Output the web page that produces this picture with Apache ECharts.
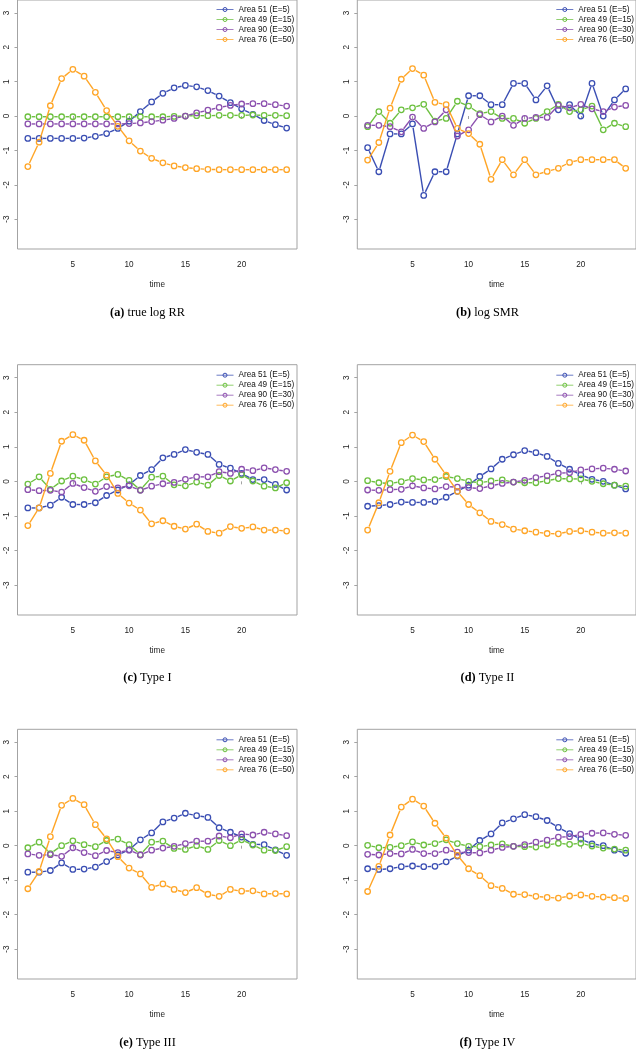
<!DOCTYPE html>
<html><head><meta charset="utf-8">
<script src="https://cdn.jsdelivr.net/npm/echarts@6/dist/echarts.min.js"></script>
<style>html,body{margin:0;padding:0;background:#fff}#c{width:636px;height:1050px}</style>
</head><body><div id="c"></div>
<script>
// ---------- DATA ----------
const time = [1,2,3,4,5,6,7,8,9,10,11,12,13,14,15,16,17,18,19,20,21,22,23,24];
const areaNames = ['Area 51 (E=5)','Area 49 (E=15)','Area 90 (E=30)','Area 76 (E=50)'];
const xTicks = [5,10,15,20];
const yTicks = [-3,-2,-1,0,1,2,3];
const captions = [['(a)','true log RR'],['(b)','log SMR'],['(c)','Type I'],['(d)','Type II'],['(e)','Type III'],['(f)','Type IV']];

// (a) true log RR
const trueRR_a51 = [-0.65,-0.65,-0.65,-0.65,-0.65,-0.64,-0.59,-0.51,-0.36,-0.15,0.13,0.41,0.66,0.82,0.89,0.85,0.74,0.58,0.39,0.21,0.05,-0.13,-0.25,-0.35];
const trueRR_a49 = [-0.02,-0.02,-0.02,-0.02,-0.02,-0.02,-0.02,-0.02,-0.02,-0.02,-0.02,-0.02,-0.02,-0.01,0,0.01,0.01,0.02,0.02,0.02,0.03,0.02,0.02,0.01];
const trueRR_a90 = [-0.23,-0.23,-0.23,-0.23,-0.23,-0.23,-0.23,-0.23,-0.23,-0.22,-0.2,-0.16,-0.12,-0.07,0,0.09,0.17,0.25,0.31,0.35,0.36,0.36,0.33,0.29];
const trueRR_a76 = [-1.47,-0.76,0.3,1.09,1.36,1.16,0.69,0.16,-0.3,-0.72,-1.02,-1.23,-1.36,-1.45,-1.5,-1.53,-1.55,-1.56,-1.56,-1.56,-1.56,-1.56,-1.56,-1.56];
// (b) log SMR
const smr_a51 = [-0.92,-1.62,-0.52,-0.52,-0.23,-2.31,-1.62,-1.62,-0.52,0.59,0.59,0.33,0.33,0.95,0.95,0.47,0.88,0.18,0.33,0,0.95,0,0.47,0.79];
const smr_a49 = [-0.31,0.13,-0.21,0.18,0.24,0.34,-0.15,-0.07,0.43,0.29,0.07,0.13,-0.07,-0.07,-0.21,-0.07,0.13,0.34,0.13,0.18,0.29,-0.4,-0.21,-0.31];
const smr_a90 = [-0.27,-0.27,-0.31,-0.46,-0.03,-0.36,-0.17,0.18,-0.58,-0.4,0.04,-0.17,0,-0.27,-0.07,-0.04,-0.04,0.31,0.24,0.34,0.21,0.13,0.26,0.31];
const smr_a76 = [-1.28,-0.77,0.23,1.07,1.38,1.19,0.4,0.33,-0.36,-0.51,-0.82,-1.84,-1.27,-1.71,-1.27,-1.71,-1.61,-1.52,-1.35,-1.27,-1.27,-1.27,-1.27,-1.52];
// (c) Type I
const t1_a51 = [-0.77,-0.77,-0.69,-0.46,-0.67,-0.67,-0.62,-0.41,-0.25,-0.1,0.17,0.34,0.68,0.78,0.92,0.84,0.78,0.49,0.38,0.23,0.05,0.05,-0.09,-0.25];
const t1_a49 = [-0.08,0.13,-0.23,0.01,0.15,0.05,-0.08,0.13,0.2,0.03,-0.25,0.12,0.15,-0.1,-0.13,-0.02,-0.11,0.17,0.01,0.19,0.01,-0.14,-0.19,-0.04];
const t1_a90 = [-0.24,-0.27,-0.26,-0.31,-0.06,-0.18,-0.29,-0.15,-0.19,-0.13,-0.26,-0.14,-0.07,-0.03,0.06,0.13,0.13,0.28,0.23,0.35,0.31,0.39,0.34,0.29];
const t1_a76 = [-1.28,-0.77,0.23,1.16,1.35,1.19,0.59,0.18,-0.35,-0.63,-0.83,-1.23,-1.14,-1.3,-1.38,-1.24,-1.45,-1.5,-1.31,-1.36,-1.32,-1.41,-1.41,-1.44];
// (d) Type II
const t2_a51 = [-0.72,-0.7,-0.67,-0.6,-0.61,-0.61,-0.58,-0.46,-0.29,-0.11,0.14,0.36,0.64,0.77,0.89,0.83,0.72,0.52,0.35,0.19,0.06,0,-0.11,-0.22];
const t2_a49 = [0.02,-0.04,-0.06,-0.01,0.08,0.04,0.05,0.14,0.08,0,-0.04,0.01,0.04,-0.02,-0.04,-0.04,0.02,0.08,0.07,0.07,0,-0.07,-0.11,-0.14];
const t2_a90 = [-0.25,-0.26,-0.24,-0.23,-0.13,-0.19,-0.22,-0.15,-0.17,-0.18,-0.21,-0.13,-0.06,-0.02,0.03,0.11,0.16,0.24,0.25,0.33,0.36,0.38,0.35,0.3];
const t2_a76 = [-1.41,-0.62,0.29,1.12,1.34,1.15,0.64,0.18,-0.29,-0.67,-0.91,-1.16,-1.25,-1.38,-1.43,-1.47,-1.51,-1.52,-1.45,-1.43,-1.47,-1.5,-1.49,-1.5];
// (e) Type III
const t3_a51 = [-0.77,-0.77,-0.72,-0.5,-0.69,-0.68,-0.62,-0.46,-0.27,-0.12,0.17,0.37,0.69,0.8,0.94,0.87,0.82,0.52,0.39,0.25,0.04,0.03,-0.12,-0.28];
const t3_a49 = [-0.06,0.1,-0.23,0,0.14,0.03,-0.03,0.15,0.19,0.03,-0.26,0.1,0.13,-0.08,-0.11,0,-0.11,0.15,0,0.17,0.02,-0.13,-0.14,-0.03];
const t3_a90 = [-0.24,-0.28,-0.26,-0.31,-0.06,-0.2,-0.29,-0.14,-0.2,-0.13,-0.27,-0.13,-0.07,-0.02,0.06,0.13,0.13,0.28,0.23,0.34,0.31,0.39,0.34,0.29];
const t3_a76 = [-1.25,-0.75,0.26,1.17,1.37,1.19,0.61,0.2,-0.32,-0.65,-0.82,-1.21,-1.11,-1.27,-1.36,-1.22,-1.41,-1.47,-1.27,-1.32,-1.31,-1.4,-1.39,-1.4];
// (f) Type IV
const t4_a51 = [-0.67,-0.69,-0.67,-0.61,-0.59,-0.61,-0.6,-0.47,-0.3,-0.13,0.15,0.34,0.66,0.78,0.9,0.84,0.73,0.53,0.35,0.19,0.05,0,-0.13,-0.22];
const t4_a49 = [0.01,-0.06,-0.05,0,0.11,0.02,0.06,0.17,0.06,-0.02,-0.03,0.02,0.05,-0.02,-0.03,-0.04,0.02,0.07,0.04,0.07,-0.01,-0.07,-0.1,-0.13];
const t4_a90 = [-0.25,-0.27,-0.23,-0.24,-0.11,-0.23,-0.23,-0.13,-0.19,-0.2,-0.21,-0.13,-0.05,-0.02,0.03,0.1,0.16,0.25,0.26,0.33,0.36,0.37,0.33,0.3];
const t4_a76 = [-1.33,-0.6,0.31,1.12,1.35,1.15,0.65,0.22,-0.28,-0.67,-0.87,-1.16,-1.24,-1.41,-1.42,-1.47,-1.5,-1.52,-1.46,-1.43,-1.47,-1.49,-1.51,-1.53];

const panelData = [
  [trueRR_a51, trueRR_a49, trueRR_a90, trueRR_a76],
  [smr_a51, smr_a49, smr_a90, smr_a76],
  [t1_a51, t1_a49, t1_a90, t1_a76],
  [t2_a51, t2_a49, t2_a90, t2_a76],
  [t3_a51, t3_a49, t3_a90, t3_a76],
  [t4_a51, t4_a49, t4_a90, t4_a76]
];

// ---------- STYLE / LAYOUT ----------
const colors = ['#3a4eb3', '#6cc03f', '#8b4fae', '#ffa526'];
const colLeft = [17.5, 357.3], colWidth = [279.5, 279];
const rowTop = [-1, 364.7, 729.3], rowHeight = [250, 250.3, 249.7];
const capX = [147.5, 487.5], capY = [307, 672, 1037];
const GAP = 3.9;
const SANS = 'Liberation Sans, Arial, sans-serif';
const SERIF = 'Liberation Serif, Times New Roman, serif';

function segRender(color) {
  return function (params, api) {
    const a = api.coord([api.value(0), api.value(1)]);
    const b = api.coord([api.value(2), api.value(3)]);
    const dx = b[0] - a[0], dy = b[1] - a[1];
    const L = Math.sqrt(dx * dx + dy * dy);
    if (L <= 2 * GAP) return { type: 'group', children: [] };
    const ux = dx / L, uy = dy / L;
    return {
      type: 'line', silent: true,
      shape: { x1: a[0] + ux * GAP, y1: a[1] + uy * GAP, x2: b[0] - ux * GAP, y2: b[1] - uy * GAP },
      style: { stroke: color, lineWidth: 1.4 }
    };
  };
}

const grid = [], xAxis = [], yAxis = [], legend = [], title = [], series = [];
panelData.forEach((areas, p) => {
  const c = p % 2, r = Math.floor(p / 2);
  grid.push({ left: colLeft[c], top: rowTop[r], width: colWidth[c], height: rowHeight[r],
    show: true, borderColor: '#a3a3a3', borderWidth: 1, backgroundColor: 'transparent' });
  xAxis.push({ gridIndex: p, type: 'value', min: 0.08, max: 24.92,
    name: 'time', nameLocation: 'middle', nameGap: 32,
    nameTextStyle: { fontSize: 8.2, color: '#222', fontFamily: SANS },
    axisLine: { show: false }, splitLine: { show: false },
    axisTick: { show: true, length: 3, lineStyle: { color: '#a3a3a3' }, customValues: xTicks },
    axisLabel: { customValues: xTicks, margin: 12, fontSize: 8.2, color: '#222', fontFamily: SANS } });
  yAxis.push({ gridIndex: p, type: 'value', min: -3.868, max: 3.376,
    axisLine: { show: false }, splitLine: { show: false },
    axisTick: { show: true, length: 3, lineStyle: { color: '#a3a3a3' }, customValues: yTicks },
    axisLabel: { customValues: yTicks, rotate: 90, margin: 7, fontSize: 8.2, color: '#222', fontFamily: SANS } });
  legend.push({ data: areaNames, orient: 'vertical', left: colLeft[c] + 198.5, top: rowTop[r] + 5.5,
    itemWidth: 17, itemHeight: 5, itemGap: 0, padding: 0, selectedMode: false,
    textStyle: { fontSize: 8.2, lineHeight: 10, color: '#111', fontFamily: SANS },
    itemStyle: { borderWidth: 1 },
    lineStyle: { width: 1, opacity: 0.75 } });
  title.push({ text: '{b|' + captions[p][0] + '} {n|' + captions[p][1] + '}',
    left: capX[c], top: capY[r], textAlign: 'center', padding: 0,
    textStyle: { fontFamily: SERIF, fontSize: 12.3, fontWeight: 'normal', color: '#000',
      rich: { b: { fontFamily: SERIF, fontSize: 12.3, fontWeight: 'bold', color: '#000' },
              n: { fontFamily: SERIF, fontSize: 12.3, color: '#000' } } } });
  areas.forEach((vals, k) => {
    const z = 2 + k;
    series.push({ type: 'custom', xAxisIndex: p, yAxisIndex: p, z: z, silent: true,
      renderItem: segRender(colors[k]), encode: { x: 0, y: 1 },
      data: time.slice(0, -1).map((t, i) => [t, vals[i], time[i + 1], vals[i + 1]]) });
    series.push({ type: 'line', name: areaNames[k], xAxisIndex: p, yAxisIndex: p, z: z,
      data: time.map((t, i) => [t, vals[i]]),
      symbol: 'circle', symbolSize: 5.5, showSymbol: true, showAllSymbol: true,
      itemStyle: { color: 'rgba(255,255,255,0)', borderColor: colors[k], borderWidth: 1.3 },
      lineStyle: { color: colors[k], width: 1, opacity: 0 },
      emphasis: { disabled: true } });
  });
});

const chart = echarts.init(document.getElementById('c'), null, { renderer: 'canvas', width: 636, height: 1050 });
chart.setOption({ animation: false, backgroundColor: '#fff', grid, xAxis, yAxis, legend, title, series });
</script>
</body></html>
